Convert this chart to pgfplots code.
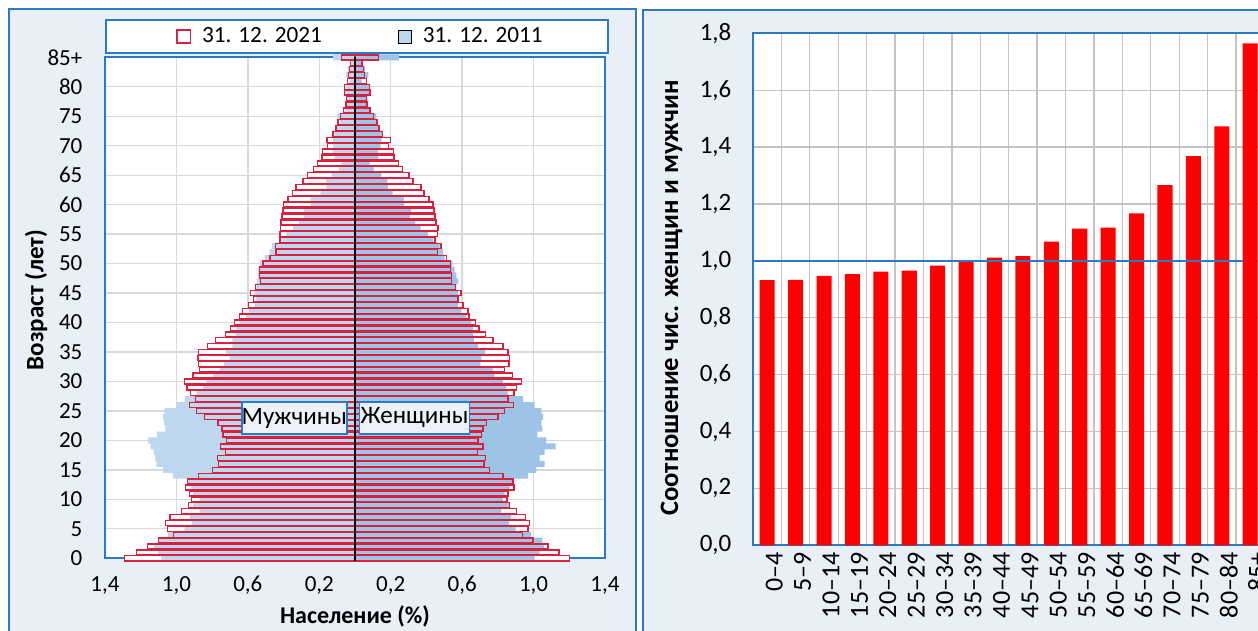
\documentclass[border=0pt]{standalone}
\usepackage{fontspec}
\setmainfont{Carlito}
\usepackage{pgfplots}
\usepackage{pgfplotstable}
\pgfplotsset{compat=1.18}
\definecolor{panelbg}{HTML}{E9EFF7}
\definecolor{frameblue}{HTML}{2A7AC6}
\definecolor{red21}{HTML}{D9213D}
\definecolor{blueM}{HTML}{BDD7EE}
\definecolor{blueW}{HTML}{9DC3E6}
\definecolor{gridL}{HTML}{D9D9D9}
\definecolor{gridR}{HTML}{C4C4C4}
\definecolor{barred}{HTML}{FF0000}
\definecolor{labelbg}{HTML}{EDF2F9}

\pgfplotstableread{
age m21 w21 m11 w11
0 -1.290 1.202 -1.085 1.006
1 -1.225 1.142 -1.103 1.034
2 -1.163 1.081 -1.127 1.057
3 -1.101 0.997 -1.101 1.049
4 -1.016 0.937 -1.047 0.987
5 -1.051 0.969 -0.954 0.900
6 -1.062 0.978 -0.913 0.862
7 -1.036 0.956 -0.926 0.875
8 -0.973 0.903 -0.870 0.819
9 -0.933 0.866 -0.907 0.862
10 -0.917 0.851 -0.870 0.829
11 -0.926 0.857 -0.907 0.838
12 -0.950 0.890 -0.917 0.866
13 -0.937 0.885 -0.935 0.885
14 -0.877 0.829 -1.019 0.969
15 -0.799 0.754 -1.075 1.016
16 -0.763 0.722 -1.113 1.062
17 -0.771 0.730 -1.118 1.034
18 -0.726 0.685 -1.126 1.062
19 -0.754 0.717 -1.144 1.124
20 -0.721 0.689 -1.159 1.071
21 -0.739 0.707 -1.109 1.021
22 -0.745 0.717 -1.062 1.049
23 -0.767 0.735 -1.071 1.043
24 -0.844 0.801 -1.075 1.053
25 -0.889 0.838 -1.066 1.043
26 -0.928 0.889 -1.000 1.006
27 -0.892 0.857 -0.954 0.941
28 -0.920 0.890 -0.889 0.857
29 -0.941 0.903 -0.851 0.847
30 -0.954 0.931 -0.833 0.829
31 -0.907 0.881 -0.795 0.782
32 -0.870 0.838 -0.758 0.773
33 -0.877 0.862 -0.735 0.702
34 -0.879 0.866 -0.702 0.707
35 -0.877 0.857 -0.724 0.730
36 -0.827 0.829 -0.687 0.689
37 -0.782 0.773 -0.687 0.665
38 -0.724 0.732 -0.668 0.661
39 -0.696 0.694 -0.665 0.661
40 -0.676 0.674 -0.646 0.651
41 -0.646 0.638 -0.609 0.623
42 -0.631 0.633 -0.595 0.595
43 -0.595 0.605 -0.562 0.577
44 -0.569 0.577 -0.553 0.571
45 -0.586 0.594 -0.562 0.577
46 -0.556 0.564 -0.553 0.567
47 -0.528 0.539 -0.549 0.577
48 -0.536 0.539 -0.543 0.567
49 -0.536 0.536 -0.543 0.558
50 -0.515 0.536 -0.534 0.545
51 -0.476 0.511 -0.506 0.502
52 -0.442 0.461 -0.478 0.493
53 -0.444 0.482 -0.465 0.474
54 -0.420 0.448 -0.413 0.437
55 -0.420 0.463 -0.385 0.409
56 -0.418 0.465 -0.347 0.368
57 -0.414 0.454 -0.315 0.338
58 -0.409 0.448 -0.286 0.308
59 -0.403 0.442 -0.287 0.315
60 -0.401 0.437 -0.248 0.276
61 -0.375 0.414 -0.248 0.274
62 -0.351 0.386 -0.192 0.211
63 -0.330 0.370 -0.161 0.185
64 -0.291 0.325 -0.162 0.181
65 -0.267 0.302 -0.131 0.147
66 -0.233 0.265 -0.091 0.105
67 -0.209 0.245 -0.075 0.082
68 -0.185 0.218 -0.114 0.131
69 -0.183 0.217 -0.127 0.131
70 -0.153 0.187 -0.123 0.144
71 -0.157 0.198 -0.123 0.147
72 -0.123 0.153 -0.114 0.153
73 -0.106 0.134 -0.101 0.134
74 -0.095 0.123 -0.086 0.123
75 -0.082 0.105 -0.099 0.118
76 -0.065 0.084 -0.058 0.086
77 -0.050 0.067 -0.047 0.069
78 -0.049 0.065 -0.045 0.069
79 -0.058 0.084 -0.054 0.082
80 -0.060 0.082 -0.054 0.086
81 -0.041 0.063 -0.030 0.037
82 -0.037 0.054 -0.052 0.075
83 -0.030 0.047 -0.040 0.055
84 -0.026 0.039 -0.020 0.045
85 -0.077 0.131 -0.123 0.245
}\pyr

\pgfplotstableread{
idx ratio
0 0.932
1 0.933
2 0.947
3 0.953
4 0.962
5 0.966
6 0.983
7 1.001
8 1.011
9 1.017
10 1.068
11 1.113
12 1.117
13 1.167
14 1.266
15 1.368
16 1.473
17 1.765
}\ratio

\begin{document}
\begin{tikzpicture}
\fill[white] (0,0) rectangle (629pt,315.5pt);
\draw[frameblue, line width=1pt, fill=panelbg] (4.5pt,-10pt) rectangle (318pt,311pt);
\draw[frameblue, line width=1pt, fill=panelbg] (321.5pt,-10pt) rectangle (700pt,310.5pt);
\draw[frameblue, line width=1pt, fill=white] (52.85pt,289pt) rectangle (304pt,305.3pt);

\begin{axis}[
  at={(52.5pt,36.35pt)}, anchor=south west, scale only axis,
  width=250pt, height=250.5pt,
  xmin=-1.4, xmax=1.4, ymin=0, ymax=85, clip=false,
  axis background/.style={fill=white},
  axis line style={draw=frameblue, line width=1pt},
  xtick={-1.4,-1,-0.6,-0.2,0.2,0.6,1,1.4},
  xticklabels={{1,4},{1,0},{0,6},{0,2},{0,2},{0,6},{1,0},{1,4}},
  ytick={0,5,10,15,20,25,30,35,40,45,50,55,60,65,70,75,80,85},
  yticklabels={0,5,10,15,20,25,30,35,40,45,50,55,60,65,70,75,80,85+},
  major tick length=0pt,
  xmajorgrids, ymajorgrids,
  grid style={gridL, line width=0.65pt},
  xticklabel style={font=\fontsize{11.5}{13}\selectfont, yshift=-5.5pt},
  yticklabel style={font=\fontsize{11.5}{13}\selectfont, xshift=-7.8pt},
  xlabel={Население (\%)}, ylabel={Возраст (лет)},
  xlabel style={font=\bfseries\fontsize{12}{14}\selectfont, at={(axis description cs:0.5,0)}, anchor=base, yshift=-32.85pt},
  ylabel style={font=\bfseries\fontsize{12.5}{14}\selectfont, at={([xshift=-34.5pt]axis description cs:0,0.5156)}, anchor=center},
  legend columns=2,
  legend style={draw=none, fill=none, at={(0.513,1.0415)}, anchor=center,
    font=\fontsize{11.6}{14}\selectfont,
    /tikz/every odd column/.append style={column sep=3.5pt},
    /tikz/every even column/.append style={column sep=36pt}},
  legend image code/.code={\draw[#1] (0pt,-3.3pt) rectangle (6.6pt,3.3pt);},
]
% white backing of 2021 bars
\addplot[xbar, bar width=0.85, bar shift=0pt, fill=white, draw=none, forget plot] table[x=m21, y=age] {\pyr};
\addplot[xbar, bar width=0.85, bar shift=0pt, fill=white, draw=none, forget plot] table[x=w21, y=age] {\pyr};
% 2011
\addplot[xbar, bar width=1, bar shift=0pt, fill=blueM, draw=none, forget plot] table[x=m11, y=age] {\pyr};
\addplot[xbar, bar width=1, bar shift=0pt, fill=blueW, draw=none, forget plot] table[x=w11, y=age] {\pyr};
% 2021 outlines
\addplot[xbar, bar width=0.85, bar shift=0pt, fill=none, draw=red21, line width=0.7pt, forget plot] table[x=m21, y=age] {\pyr};
\addplot[xbar, bar width=0.85, bar shift=0pt, fill=none, draw=red21, line width=0.7pt, forget plot] table[x=w21, y=age] {\pyr};
% centre line
\addplot[black, line width=0.65pt, forget plot] coordinates {(0,-0.5) (0,85)};
\addlegendimage{draw=red21, fill=white, line width=0.8pt}
\addlegendentry{31. 12. 2021}
\addlegendimage{draw=none, fill=blueM}
\addlegendentry{31. 12. 2011}
\node[draw=frameblue, line width=0.8pt, fill=labelbg, anchor=east, minimum width=52.5pt, minimum height=16pt, inner sep=0pt, font=\fontsize{12.5}{14}\selectfont] at (axis cs:-0.041,23.8) {Мужчины};
\node[draw=frameblue, line width=0.8pt, fill=labelbg, anchor=west, minimum width=55pt, minimum height=16pt, inner sep=0pt, font=\fontsize{12.5}{14}\selectfont] at (axis cs:0.021,23.8) {Женщины};
\end{axis}

\begin{axis}[
  at={(376.5pt,42.85pt)}, anchor=south west, scale only axis,
  width=255.7pt, height=256pt,
  xmin=-0.5, xmax=17.5, ymin=0, ymax=1.8,
  axis background/.style={fill=white},
  axis line style={draw=frameblue, line width=1pt},
  xtick={0,1,2,3,4,5,6,7,8,9,10,11,12,13,14,15,16,17},
  xticklabels={0–4,5–9,10–14,15–19,20–24,25–29,30–34,35–39,40–44,45–49,50–54,55–59,60–64,65–69,70–74,75–79,80–84,85+},
  minor xtick={0.5,1.5,2.5,3.5,4.5,5.5,6.5,7.5,8.5,9.5,10.5,11.5,12.5,13.5,14.5,15.5,16.5},
  xminorgrids, ymajorgrids,
  ytick={0,0.2,0.4,0.6,0.8,1.0,1.2,1.4,1.6,1.8},
  yticklabels={{0,0},{0,2},{0,4},{0,6},{0,8},{1,0},{1,2},{1,4},{1,6},{1,8}},
  major tick length=0pt, minor tick length=0pt,
  grid style={gridR, line width=0.65pt},
  minor grid style={gridR, line width=0.65pt},
  yticklabel style={font=\fontsize{12.5}{14}\selectfont, xshift=-7.3pt},
  xticklabel style={font=\fontsize{13}{15}\selectfont, rotate=90, anchor=east, yshift=-3.5pt},
  ylabel={Соотношение чис. женщин и мужчин},
  ylabel style={font=\bfseries\fontsize{13.3}{15}\selectfont, at={([xshift=-40.75pt]axis description cs:0,0.483)}, anchor=center},
  clip=false,
]
\addplot[ybar, bar width=0.53, bar shift=0pt, fill=barred, draw=none] table[x=idx, y=ratio] {\ratio};
\addplot[frameblue, line width=1pt] coordinates {(-0.5,1.0) (16.75,1.0)};
\end{axis}

\pgfresetboundingbox
\useasboundingbox (0,0) rectangle (629pt,315.5pt);
\end{tikzpicture}
\end{document}
